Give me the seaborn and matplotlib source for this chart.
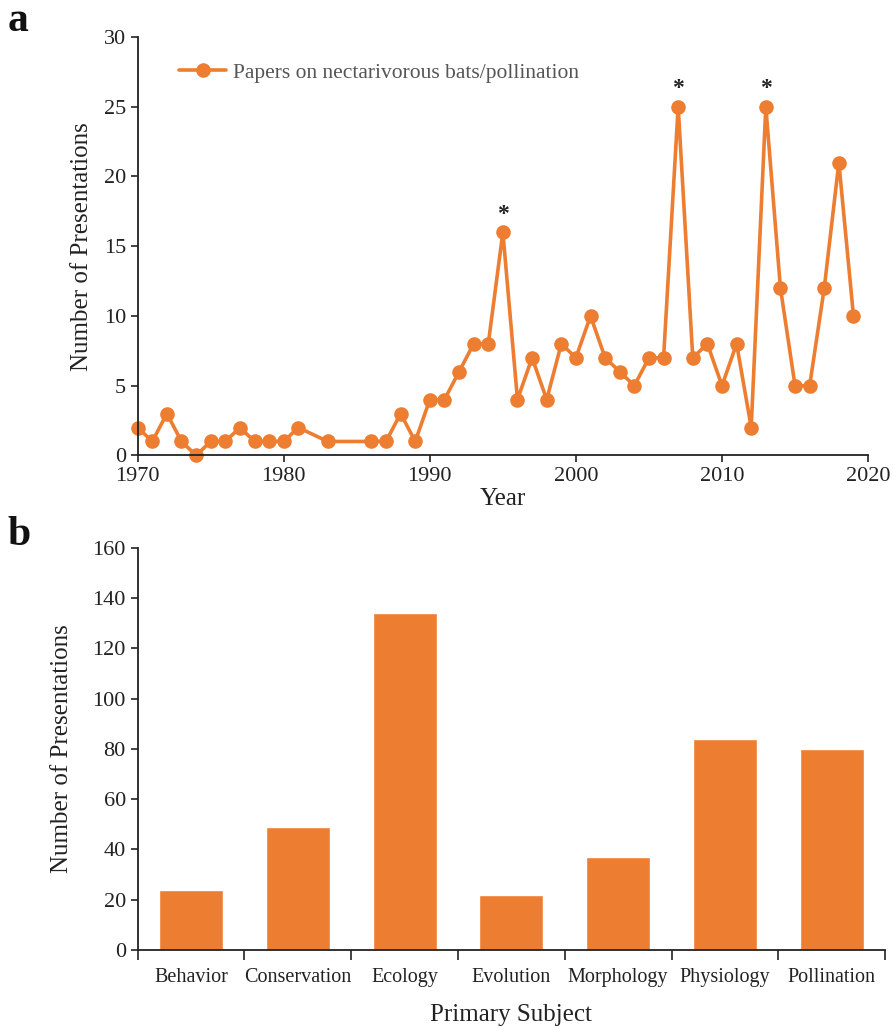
import numpy as np
import pandas as pd
import matplotlib
matplotlib.use("Agg")
import matplotlib.pyplot as plt
import seaborn as sns

years = [1970, 1971, 1972, 1973, 1974, 1975, 1976, 1977, 1978, 1979, 1980, 1981,
         1983, 1986, 1987, 1988, 1989, 1990, 1991, 1992, 1993, 1994, 1995, 1996,
         1997, 1998, 1999, 2000, 2001, 2002, 2003, 2004, 2005, 2006, 2007, 2008,
         2009, 2010, 2011, 2012, 2013, 2014, 2015, 2016, 2017, 2018, 2019]
papers = [2, 1, 3, 1, 0, 1, 1, 2, 1, 1, 1, 2,
          1, 1, 1, 3, 1, 4, 4, 6, 8, 8, 16, 4,
          7, 4, 8, 7, 10, 7, 6, 5, 7, 7, 25, 7,
          8, 5, 8, 2, 25, 12, 5, 5, 12, 21, 10]
starred_years = [1995, 2007, 2013]

subjects = ["Behavior", "Conservation", "Ecology", "Evolution", "Morphology",
            "Physiology", "Pollination"]
counts = [24, 49, 134, 22, 37, 84, 80]

sns.set_theme(style="ticks")
plt.rcParams['font.family'] = ['Liberation Serif', 'DejaVu Serif']
orange = "#ED7D31"
dark = "#222222"

fig = plt.figure(figsize=(8.94, 10.28), dpi=100)
ax1 = fig.add_axes([0.154, 0.557, 0.817, 0.407])
ax2 = fig.add_axes([0.154, 0.076, 0.836, 0.391])

# Panel a
df = pd.DataFrame({"Year": years, "Papers": papers})
sns.lineplot(data=df, x="Year", y="Papers", ax=ax1, color=orange, linewidth=2.6,
             marker="o", markersize=10.5, markeredgewidth=0,
             label="Papers on nectarivorous bats/pollination")
for ln in ax1.get_lines():
    ln.set_clip_on(False)
for yr in starred_years:
    v = papers[years.index(yr)]
    ax1.text(yr, v + 0.55, "*", ha="center", va="bottom", fontsize=17,
             fontweight="bold", color=dark)
ax1.set_xlim(1970, 2020)
ax1.set_ylim(0, 30)
ax1.set_xticks([1970, 1980, 1990, 2000, 2010, 2020])
ax1.set_yticks(range(0, 31, 5))
ax1.set_xlabel("Year", fontsize=18, color=dark, labelpad=1)
ax1.set_ylabel("Number of Presentations", fontsize=18, color=dark, labelpad=8)
ax1.tick_params(axis="both", labelsize=16, colors=dark, length=5, width=1.2)
for s in ["left", "bottom"]:
    ax1.spines[s].set_linewidth(1.3)
    ax1.spines[s].set_color(dark)
sns.despine(ax=ax1)
leg = ax1.legend(loc="upper left", bbox_to_anchor=(0.03, 0.985), frameon=False,
                 fontsize=15.5, handlelength=2.2, handletextpad=0.3)
for t in leg.get_texts():
    t.set_color("#555555")

# Panel b
dfb = pd.DataFrame({"Subject": subjects, "Count": counts})
sns.barplot(data=dfb, x="Subject", y="Count", ax=ax2, color=orange, width=0.6,
            saturation=1)
ax2.set_xlim(-0.5, len(subjects) - 0.5)
ax2.set_ylim(0, 160)
ax2.set_yticks(range(0, 161, 20))
ax2.set_xticks(np.arange(-0.5, len(subjects), 1.0))
ax2.set_xticklabels([])
ax2.set_xticks(range(len(subjects)), minor=True)
ax2.set_xticklabels(subjects, minor=True)
ax2.tick_params(axis="x", which="major", length=7, width=1.2, colors=dark)
ax2.tick_params(axis="x", which="minor", length=0, labelsize=14.5, colors=dark, pad=13)
ax2.tick_params(axis="y", labelsize=16, colors=dark, length=5, width=1.2)
ax2.set_xlabel("Primary Subject", fontsize=18, color=dark, labelpad=12)
ax2.set_ylabel("Number of Presentations", fontsize=18, color=dark, labelpad=14)
for s in ["left", "bottom"]:
    ax2.spines[s].set_linewidth(1.3)
    ax2.spines[s].set_color(dark)
sns.despine(ax=ax2)

fig.text(0.008, 0.998, "a", fontsize=30, fontweight="bold", color="#111111", va="top")
fig.text(0.008, 0.498, "b", fontsize=30, fontweight="bold", color="#111111", va="top")

fig.savefig("out.png", dpi=100)
